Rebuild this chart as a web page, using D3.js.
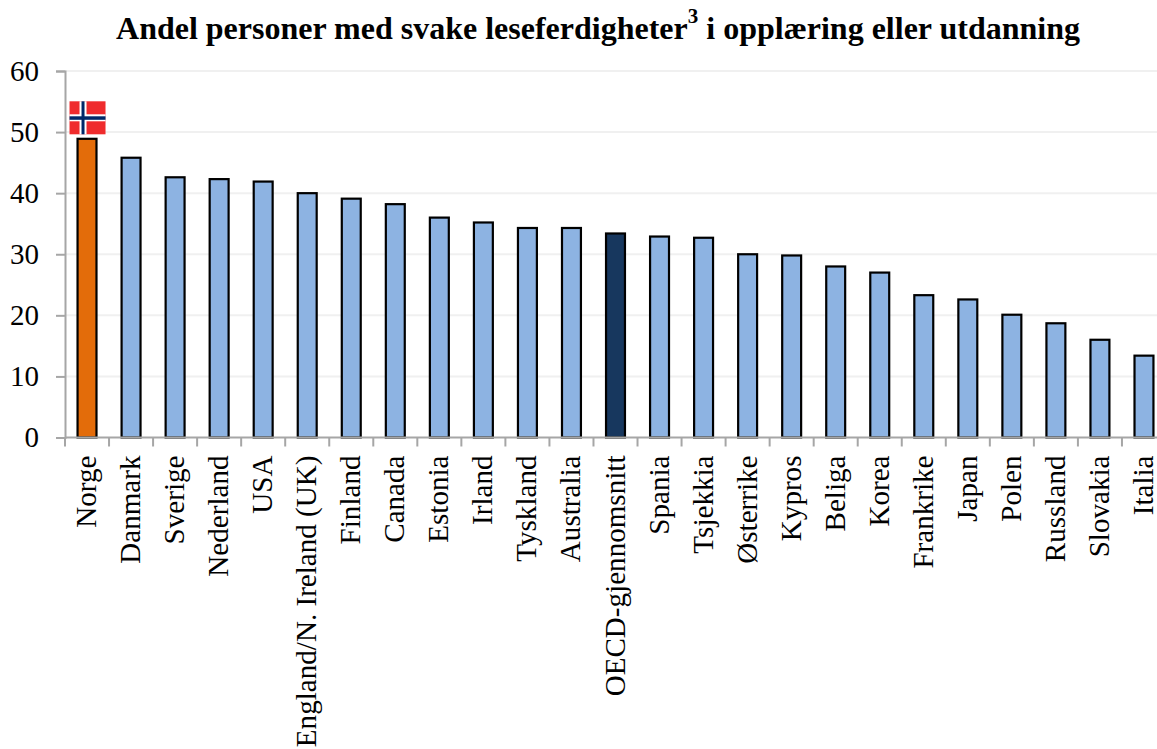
<!DOCTYPE html>
<html>
<head>
<meta charset="utf-8">
<script src="https://cdn.jsdelivr.net/npm/d3@7"></script>
<style>
  html, body { margin: 0; padding: 0; background: #fff; overflow: hidden; }
  svg { display: block; font-family: "Liberation Serif", serif; }
</style>
</head>
<body>
<div id="app"></div>
<script>
const countries = ['Norge', 'Danmark', 'Sverige', 'Nederland', 'USA', 'England/N. Ireland (UK)', 'Finland', 'Canada',
  'Estonia', 'Irland', 'Tyskland', 'Australia', 'OECD-gjennomsnitt', 'Spania', 'Tsjekkia', 'Østerrike', 'Kypros',
  'Beliga', 'Korea', 'Frankrike', 'Japan', 'Polen', 'Russland', 'Slovakia', 'Italia'];
const values = [48.9, 45.8, 42.6, 42.3, 41.9, 40, 39.1, 38.2, 36, 35.2, 34.3, 34.3, 33.4, 32.9, 32.7, 30, 29.8, 28,
  27, 23.3, 22.6, 20.1, 18.7, 16, 13.4];
const yTicks = [0, 10, 20, 30, 40, 50, 60];
const highlight = { 'Norge': '#e36c0a', 'OECD-gjennomsnitt': '#17375e' };

const width = 1157, height = 749;
const margin = { top: 71, right: -9, bottom: 311.5, left: 65 };

const svg = d3.select('#app').append('svg')
  .attr('width', width)
  .attr('height', height);

const x = d3.scaleBand()
  .domain(countries)
  .range([margin.left, width - margin.right])
  .paddingInner(0.57)
  .paddingOuter(0.285);

const y = d3.scaleLinear()
  .domain([0, 60])
  .range([height - margin.bottom, margin.top]);

// title
const title = svg.append('text')
  .attr('x', 598)
  .attr('y', 39)
  .attr('text-anchor', 'middle')
  .style('font-size', '32px')
  .style('font-weight', 'bold')
  .style('fill', '#000');
title.append('tspan').text('Andel personer med svake leseferdigheter');
title.append('tspan').attr('dy', -16).style('font-size', '21px').text('3');
title.append('tspan').attr('dy', 16).text(' i opplæring eller utdanning');

// grid lines
svg.append('g')
  .selectAll('line')
  .data(yTicks.filter(d => d > 0))
  .enter()
  .append('line')
  .attr('x1', margin.left)
  .attr('x2', width)
  .attr('y1', d => y(d))
  .attr('y2', d => y(d))
  .attr('stroke', '#f0f0f0')
  .attr('stroke-width', 2);

// bars
svg.append('g')
  .selectAll('rect')
  .data(countries)
  .enter()
  .append('rect')
  .attr('x', d => x(d))
  .attr('y', (d, i) => y(values[i]))
  .attr('width', x.bandwidth())
  .attr('height', (d, i) => y(0) - y(values[i]))
  .attr('fill', d => highlight[d] || '#8db3e2')
  .attr('stroke', '#000')
  .attr('stroke-width', 2.2);

// y axis
const yAxis = svg.append('g')
  .attr('transform', `translate(${margin.left}, 0)`)
  .call(d3.axisLeft(y).tickValues(yTicks).tickSize(9).tickPadding(17));

yAxis.selectAll('.domain, line').attr('stroke', '#a6a6a6').attr('stroke-width', 2);
yAxis.selectAll('text')
  .style('font-family', '"Liberation Serif", serif')
  .style('font-size', '29px')
  .style('fill', '#000');

// x axis
const step = x.step();
const xAxis = svg.append('g').attr('class', 'x-axis');

xAxis.append('line')
  .attr('x1', margin.left)
  .attr('x2', width)
  .attr('y1', y(0))
  .attr('y2', y(0))
  .attr('stroke', '#a6a6a6')
  .attr('stroke-width', 2);

xAxis.selectAll('.tick')
  .data(countries)
  .enter()
  .append('line')
  .attr('class', 'tick')
  .attr('x1', d => x(d) + x.bandwidth() / 2 - step / 2)
  .attr('x2', d => x(d) + x.bandwidth() / 2 - step / 2)
  .attr('y1', y(0))
  .attr('y2', y(0) + 9)
  .attr('stroke', '#a6a6a6')
  .attr('stroke-width', 2);

xAxis.selectAll('text')
  .data(countries)
  .enter()
  .append('text')
  .attr('transform', d => `translate(${x(d) + x.bandwidth() / 2 + 9}, ${y(0) + 18}) rotate(-90)`)
  .attr('text-anchor', 'end')
  .style('font-size', '29.1px')
  .style('fill', '#000')
  .text(d => d);

// Norwegian flag above the first bar
const flagW = 36, flagH = 33;
const flag = svg.append('g')
  .attr('transform', `translate(${x('Norge') + x.bandwidth() / 2 - flagW / 2 + 0.5}, ${y(values[0]) - flagH - 4.5})`);

flag.append('rect').attr('width', flagW).attr('height', flagH).attr('fill', '#ef2b2d');
flag.append('rect').attr('x', 10).attr('width', 7).attr('height', flagH).attr('fill', '#fff');
flag.append('rect').attr('y', 13).attr('width', flagW).attr('height', 7).attr('fill', '#fff');
flag.append('rect').attr('x', 12).attr('width', 3).attr('height', flagH).attr('fill', '#002868');
flag.append('rect').attr('y', 15).attr('width', flagW).attr('height', 3.5).attr('fill', '#002868');
</script>
</body>
</html>
